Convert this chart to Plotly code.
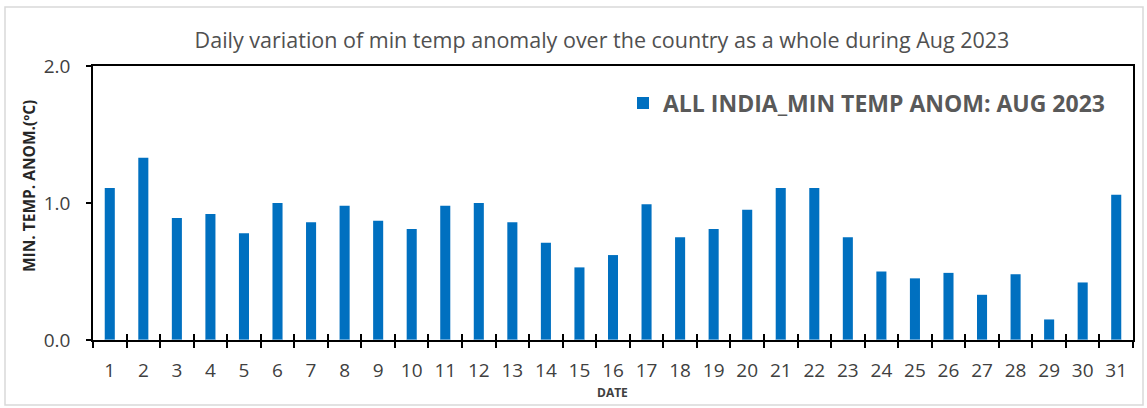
import plotly.graph_objects as go

dates = [str(d) for d in range(1, 32)]
anomaly = [1.11, 1.33, 0.89, 0.92, 0.78, 1.00, 0.86, 0.98, 0.87, 0.81,
           0.98, 1.00, 0.86, 0.71, 0.53, 0.62, 0.99, 0.75, 0.81, 0.95,
           1.11, 1.11, 0.75, 0.50, 0.45, 0.49, 0.33, 0.48, 0.15, 0.42, 1.06]
series_name = "ALL INDIA_MIN TEMP ANOM: AUG 2023"
title_text = "Daily variation of min temp anomaly over the country as a whole during Aug 2023"
y_title = "<b>MIN. TEMP. ANOM.(ºC)</b>"
x_title = "<b>DATE</b>"

W, H = 1147, 408
L, R, T, B = 93, 14, 66, 68
pw, ph = W - L - R, H - T - B

def px_x(p):
    return (p - L) / pw

def px_y(p):
    return (H - B - p) / ph

FONT = "Open Sans"
fig = go.Figure()
fig.add_trace(go.Bar(x=dates, y=anomaly, name=series_name,
                     marker=dict(color="#0070C0", line=dict(width=0))))
# transparent trace on overlay axis to draw the inner half of crossing ticks
fig.add_trace(go.Bar(x=dates, y=[0]*31, xaxis="x2", showlegend=False,
                     marker=dict(color="rgba(0,0,0,0)"), hoverinfo="skip"))

fig.update_layout(
    width=W, height=H,
    margin=dict(l=L, r=R, t=T, b=B),
    paper_bgcolor="white", plot_bgcolor="white",
    bargap=0.7,
    title=dict(text=title_text, xref="container", x=602 / W, xanchor="center",
               yref="container", y=1 - 40 / H, yanchor="middle",
               font=dict(family=FONT, size=21.5, color="#505050")),
    showlegend=True,
    legend=dict(x=px_x(623), y=px_y(103), xanchor="left", yanchor="middle",
                bgcolor="rgba(0,0,0,0)", font=dict(family=FONT, size=23, color="#595959", weight="bold"),
                itemwidth=30),
    xaxis=dict(type="category", tickson="boundaries", ticks="outside", ticklen=6,
               tickwidth=1.5, tickcolor="black", showline=True, linecolor="black",
               linewidth=1.5, mirror=True, showgrid=False, ticklabelstandoff=12,
               automargin=False,
               tickfont=dict(family=FONT, size=19, color="#404040")),
    xaxis2=dict(type="category", overlaying="x", matches="x", tickson="boundaries",
                ticks="inside", ticklen=6, tickwidth=1.5, tickcolor="black",
                showticklabels=False, showgrid=False, side="bottom", showline=False),
    yaxis=dict(range=[0, 2], dtick=1, tickformat=".1f", ticks="outside", ticklen=5,
               tickwidth=1.5, tickcolor="black", showline=True, linecolor="black",
               linewidth=1.5, mirror=True, showgrid=False, zeroline=False,
               ticklabelstandoff=12, automargin=False,
               tickfont=dict(family=FONT, size=19, color="#404040")),
    annotations=[
        dict(text=y_title, textangle=-90, xref="paper", yref="paper",
             x=px_x(29), y=px_y(186), xanchor="center", yanchor="middle",
             showarrow=False, font=dict(family=FONT, size=15.5, color="#262626")),
        dict(text=x_title, xref="paper", yref="paper",
             x=px_x(612), y=px_y(392), xanchor="center", yanchor="middle",
             showarrow=False, font=dict(family=FONT, size=12, color="#404040")),
    ],
    shapes=[dict(type="rect", xref="paper", yref="paper",
                 x0=px_x(5), x1=px_x(1143), y0=px_y(405), y1=px_y(7),
                 line=dict(color="#D9D9D9", width=1.5), layer="below")],
)

fig.write_html("out.html", config={"displayModeBar": False},
               post_script="document.body.style.margin='0';document.body.style.overflow='hidden';")
